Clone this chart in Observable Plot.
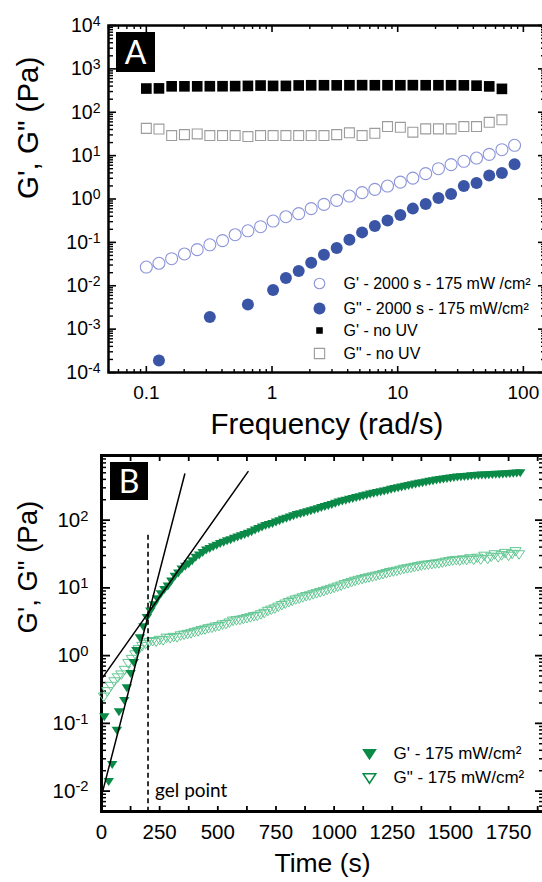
<!DOCTYPE html>
<html>
<head>
<meta charset="utf-8">
<script src="https://cdn.jsdelivr.net/npm/d3@7"></script>
<script src="https://cdn.jsdelivr.net/npm/@observablehq/plot@0.6"></script>
<style>
  html, body { margin: 0; padding: 0; background: #fff; overflow: hidden; }
  #wrap { position: relative; width: 542px; height: 882px; overflow: hidden; background: #fff; }
  #wrap svg { position: absolute; left: 0; }
  .tag { position: absolute; background: #000; color: #fff; font-family: Lato, "Open Sans", sans-serif;
         display: flex; align-items: center; justify-content: center; line-height: 1; }
</style>
</head>
<body>
<div id="wrap"></div>
<script>
const FONT = "'Liberation Sans', Arial, Helvetica, sans-serif";

// ---------------- Panel A : frequency sweep ----------------
const freqUV = [0.1, 0.126, 0.159, 0.201, 0.254, 0.32, 0.404, 0.509, 0.643, 0.811,
  1.02, 1.29, 1.63, 2.05, 2.59, 3.27, 4.13, 5.21, 6.58, 8.3,
  10.5, 13.2, 16.7, 21.1, 26.6, 33.6, 42.4, 53.5, 67.5, 85.1];
const gPrimeUV = [0.027, 0.033, 0.042, 0.054, 0.068, 0.088, 0.11, 0.15, 0.185, 0.23,
  0.31, 0.39, 0.46, 0.60, 0.75, 0.93, 1.17, 1.40, 1.67, 1.99,
  2.45, 3.03, 3.84, 5.0, 6.2, 7.4, 8.8, 10.7, 13.7, 17.3];
const freqLossUV = [0.126, 0.32, 0.643,
  1.02, 1.29, 1.63, 2.05, 2.59, 3.27, 4.13, 5.21, 6.58, 8.3,
  10.5, 13.2, 16.7, 21.1, 26.6, 33.6, 42.4, 53.5, 67.5, 85.1];
const gDoublePrimeUV = [1.9e-4, 1.9e-3, 3.7e-3,
  0.008, 0.015, 0.022, 0.034, 0.052, 0.074, 0.115, 0.17, 0.24, 0.32,
  0.43, 0.6, 0.77, 1.05, 1.3, 2.0, 2.33, 3.5, 4.0, 6.3];
const freqNoUV = [0.1, 0.126, 0.159, 0.201, 0.254, 0.32, 0.404, 0.509, 0.643, 0.811,
  1.02, 1.29, 1.63, 2.05, 2.59, 3.27, 4.13, 5.21, 6.58, 8.3,
  10.5, 13.2, 16.7, 21.1, 26.6, 33.6, 42.4, 53.5, 67.5];
const gPrimeNoUV = [352, 355, 396, 396, 396, 398, 398, 400, 405, 413,
  405, 405, 415, 419, 419, 417, 419, 421, 419, 419,
  419, 421, 419, 419, 419, 417, 410, 395, 346];
const gDoublePrimeNoUV = [42.5, 41, 29, 30.5, 31.6, 29, 29, 29, 27.5, 29,
  29, 29, 29, 29, 29, 30.5, 33.5, 29, 32.7, 46.7,
  45, 34.7, 41.4, 41.4, 41.4, 46.7, 46.7, 58.6, 66.8];
const xTicksA = [0.1, 1, 10, 100];
const xTickLabelsA = ["0.1", "1", "10", "100"];
const yTicksA = [1e-4, 1e-3, 1e-2, 1e-1, 1, 10, 100, 1e3, 1e4];
const yTickLabelsA = ["10^-4", "10^-3", "10^-2", "10^-1", "10^0", "10^1", "10^2", "10^3", "10^4"];
const legendA = ["G' - 2000 s - 175 mW /cm²", "G\" - 2000 s - 175 mW/cm²", "G' - no UV", "G\" - no UV"];
const xLabelA = "Frequency (rad/s)";
const yLabel = "G', G\" (Pa)";
const tagA = "A";

// ---------------- Panel B : time sweep ----------------
const timeStorage = [12, 31, 46, 66, 75, 98, 109, 125, 139,
  150, 165, 180, 195, 210, 225, 240, 255, 270, 285,
  300, 315, 330, 345, 360, 375, 390, 405, 420, 435,
  450, 465, 480, 495, 510, 525, 540, 555, 570, 585,
  600, 615, 630, 645, 660, 675, 690, 705, 720, 735,
  750, 765, 780, 795, 810, 825, 840, 855, 870, 885,
  900, 915, 930, 945, 960, 975, 990, 1005, 1020, 1035,
  1050, 1065, 1080, 1095, 1110, 1125, 1140, 1155, 1170, 1185,
  1200, 1215, 1230, 1245, 1260, 1275, 1290, 1305, 1320, 1335,
  1350, 1365, 1380, 1395, 1410, 1425, 1440, 1455, 1470, 1485,
  1500, 1515, 1530, 1545, 1560, 1575, 1590, 1605, 1620, 1635,
  1650, 1665, 1680, 1695, 1710, 1725, 1740, 1755, 1770, 1785,
  1800];
const gPrimeTime = [0.126, 0.014, 0.025, 0.08, 0.15, 0.22, 0.34, 0.55, 0.8,
  1.2, 1.85, 2.7, 3.7, 4.6, 5.7, 7.0, 8.3, 9.6, 10.8,
  12.8, 15.0, 16.8, 19.2, 21.0, 23.0, 25.5, 28.5, 31.0, 33.5,
  36.5, 38.5, 41.0, 43.0, 45.5, 47.5, 50.0, 52.0, 54.5, 57.0,
  59.5, 62.0, 64.5, 68.0, 72.0, 76.0, 80.0, 84.0, 87.0, 90.0,
  95, 99, 104, 108, 112, 117, 122, 126, 130, 134,
  139, 144, 149, 155, 160, 166, 172, 180, 187, 193,
  199, 205, 211, 218, 224, 231, 238, 245, 251, 258,
  265, 272, 280, 288, 295, 303, 311, 320, 329, 337,
  345, 353, 361, 369, 378, 386, 395, 402, 410, 417,
  424, 430, 436, 441, 446, 450, 455, 459, 463, 467,
  470, 473, 476, 479, 482, 485, 488, 492, 496, 500,
  505];
const timeLoss = [10, 25, 40, 55, 70, 85, 100, 115, 130, 145,
  160, 175, 190, 205, 220, 235, 250, 265, 280, 295,
  310, 325, 340, 355, 370, 385, 400, 415, 430, 445,
  460, 475, 490, 505, 520, 535, 550, 565, 580, 595,
  610, 625, 640, 655, 670, 685, 700, 715, 730, 745,
  760, 775, 790, 805, 820, 835, 850, 865, 880, 895,
  910, 925, 940, 955, 970, 985, 1000, 1015, 1030, 1045,
  1060, 1075, 1090, 1105, 1120, 1135, 1150, 1165, 1180, 1195,
  1210, 1225, 1240, 1255, 1270, 1285, 1300, 1315, 1330, 1345,
  1360, 1375, 1390, 1405, 1420, 1435, 1450, 1465, 1480, 1495,
  1510, 1525, 1540, 1555, 1570, 1585, 1600, 1615, 1630, 1645,
  1660, 1675, 1690, 1705, 1720, 1735, 1750, 1765, 1780, 1795];
const gDoublePrimeTime = [0.25, 0.30, 0.36, 0.42, 0.48, 0.53, 0.62, 0.78, 0.90, 1.05,
  1.25, 1.40, 1.50, 1.60, 1.65, 1.62, 1.72, 1.70, 1.85, 1.82,
  1.90, 1.88, 2.00, 2.05, 2.10, 2.15, 2.25, 2.30, 2.40, 2.45,
  2.55, 2.60, 2.70, 2.75, 2.90, 2.95, 3.10, 3.30, 3.35, 3.40,
  3.50, 3.60, 3.70, 3.85, 3.90, 4.10, 4.30, 4.60, 4.80, 5.00,
  5.30, 5.60, 5.90, 6.20, 6.50, 6.80, 7.00, 7.30, 7.60, 7.80,
  8.10, 8.40, 8.70, 9.00, 9.40, 9.70, 10.1, 10.5, 10.9, 11.4,
  11.8, 12.3, 12.8, 13.2, 13.6, 14.0, 14.4, 14.8, 15.2, 15.6,
  16.1, 16.6, 17.2, 17.6, 18.0, 18.6, 19.2, 19.6, 20.0, 20.5,
  21.0, 21.5, 22.0, 22.2, 22.6, 23.0, 23.2, 23.8, 24.5, 25.0,
  25.6, 26.0, 25.5, 26.5, 26.0, 27.5, 26.2, 28.0, 26.5, 30.0,
  27.0, 29.0, 31.5, 28.5, 30.5, 33.0, 30.0, 32.0, 35.0, 31.5];
const tangentSteepT = [0, 358];
const tangentSteepG = [0.0085, 480];
const tangentShallowT = [0, 630];
const tangentShallowG = [0.45, 520];
const gelPointTime = 200;
const gelLineTop = 60;
const gelLabel = "gel point";
const xTicksB = [0, 250, 500, 750, 1000, 1250, 1500, 1750];
const xTickLabelsB = ["0", "250", "500", "750", "1000", "1250", "1500", "1750"];
const xMinorB = [125, 375, 625, 875, 1125, 1375, 1625, 1875];
const yTicksB = [0.01, 0.1, 1, 10, 100];
const yTickLabelsB = ["10^-2", "10^-1", "10^0", "10^1", "10^2"];
const legendB = ["G' - 175 mW/cm²", "G\" - 175 mW/cm²"];
const xLabelB = "Time (s)";
const tagB = "B";

// ---------------- colours ----------------
const BLUE = "#3a55a6", BLUE_LIGHT = "#8c95d9", GRAY = "#9c9c9c";
const GREEN = "#0b8a47", GREEN_LIGHT = "#63c793";

// ---------------- helpers ----------------
function minorLog(majors, lo, hi) {
  const out = [];
  for (const m of [majors[0] / 10, ...majors])
    for (let k = 2; k <= 9; k++) { const v = m * k; if (v >= lo * 0.999 && v <= hi * 1.001) out.push(v); }
  return out;
}
function ticksIn(axis, values, edge, len, sw) {
  const opposite = {top: "bottom", bottom: "top", left: "right", right: "left"}[edge];
  const f = axis === "x" ? Plot.axisX : Plot.axisY;
  return f(values, {anchor: opposite, frameAnchor: edge, tickSize: len, strokeWidth: sw, fill: "none", label: null});
}
function tickLabels(axis, values, labels, pad, size) {
  const m = new Map(values.map((v, i) => [v, labels[i]]));
  const f = axis === "x" ? Plot.axisX : Plot.axisY;
  return f(values, {anchor: axis === "x" ? "bottom" : "left", tickSize: 0, tickPadding: pad,
    tickFormat: d => m.get(d), fontSize: size, label: null});
}
function superscripts(svg) {
  d3.select(svg).selectAll("text").each(function () {
    const s = this.textContent;
    const i = s.indexOf("^");
    if (i < 0) return;
    const el = d3.select(this);
    el.text(s.slice(0, i));
    el.append("tspan").attr("dy", "-0.42em").attr("font-size", "0.72em").text(s.slice(i + 1));
  });
}
const triDown = {
  draw(ctx, size) {
    const r = Math.sqrt(size / Math.PI), w = 1.05 * r, h = 1.6 * r;
    ctx.moveTo(-w, -0.4 * h); ctx.lineTo(w, -0.4 * h); ctx.lineTo(0, 0.6 * h); ctx.closePath();
  }
};
const zipXY = (xs, ys) => xs.map((x, i) => ({x, y: ys[i]}));
const label = (txt, o) => Plot.text([txt], {text: d => d, lineAnchor: "middle", ...o});
function addTag(txt, left, top, w, h, size) {
  const d = document.createElement("div");
  d.className = "tag"; d.textContent = txt;
  Object.assign(d.style, {left: left + "px", top: top + "px", width: w + "px", height: h + "px", fontSize: size + "px"});
  wrap.appendChild(d);
}

const wrap = document.getElementById("wrap");

// ---------------- Panel A ----------------
const loA = 0.05, hiA = 150, yLoA = 1e-4, yHiA = 1e4;
const chartA = Plot.plot({
  width: 546, height: 450,
  marginLeft: 108, marginRight: 1, marginTop: 25, marginBottom: 78,
  style: {fontFamily: FONT, fontSize: "19px", overflow: "visible", maxWidth: "none", background: "transparent"},
  x: {type: "log", domain: [loA, hiA], axis: null},
  y: {type: "log", domain: [yLoA, yHiA], axis: null},
  marks: [
    ticksIn("x", xTicksA, "bottom", 7, 1.6), ticksIn("x", minorLog(xTicksA, loA, hiA), "bottom", 4, 1.4),
    ticksIn("x", xTicksA, "top", 7, 1.6), ticksIn("x", minorLog(xTicksA, loA, hiA), "top", 4, 1.4),
    ticksIn("y", yTicksA, "left", 7, 1.6), ticksIn("y", minorLog(yTicksA, yLoA, yHiA), "left", 4, 1.4),
    ticksIn("y", yTicksA, "right", 7, 1.6), ticksIn("y", minorLog(yTicksA, yLoA, yHiA), "right", 4, 1.4),
    Plot.frame({strokeWidth: 2.5}),
    tickLabels("x", xTicksA, xTickLabelsA, 13, 19),
    tickLabels("y", yTicksA, yTickLabelsA, 8, 19.5),
    label(xLabelA, {frameAnchor: "bottom", dy: 52, fontSize: 29.5}),
    label(yLabel, {frameAnchor: "left", dx: -80, rotate: -90, fontSize: 29.5}),
    // data
    Plot.dot(zipXY(freqNoUV, gDoublePrimeNoUV), {x: "x", y: "y", symbol: "square", r: 5.6, stroke: GRAY, strokeWidth: 1.1, fill: "none"}),
    Plot.dot(zipXY(freqNoUV, gPrimeNoUV), {x: "x", y: "y", symbol: "square", r: 6, fill: "#000"}),
    Plot.dot(zipXY(freqUV, gPrimeUV), {x: "x", y: "y", symbol: "circle", r: 6, stroke: BLUE_LIGHT, strokeWidth: 1.1, fill: "none"}),
    Plot.dot(zipXY(freqLossUV, gDoublePrimeUV), {x: "x", y: "y", symbol: "circle", r: 6, fill: BLUE}),
    // legend
    Plot.dot([0], {frameAnchor: "top-left", dx: 211, dy: 258, symbol: "circle", r: 5.3, stroke: BLUE_LIGHT, strokeWidth: 1.1, fill: "none"}),
    Plot.dot([0], {frameAnchor: "top-left", dx: 211, dy: 283, symbol: "circle", r: 6, fill: BLUE}),
    Plot.dot([0], {frameAnchor: "top-left", dx: 211, dy: 305, symbol: "square", r: 3.7, fill: "#000"}),
    Plot.dot([0], {frameAnchor: "top-left", dx: 211, dy: 328, symbol: "square", r: 5.8, stroke: GRAY, strokeWidth: 1.1, fill: "none"}),
    label(legendA[0], {frameAnchor: "top-left", dx: 235, dy: 258, fontSize: 16, textAnchor: "start"}),
    label(legendA[1], {frameAnchor: "top-left", dx: 235, dy: 283, fontSize: 16, textAnchor: "start"}),
    label(legendA[2], {frameAnchor: "top-left", dx: 235, dy: 305, fontSize: 16, textAnchor: "start"}),
    label(legendA[3], {frameAnchor: "top-left", dx: 235, dy: 328, fontSize: 16, textAnchor: "start"})
  ]
});
chartA.style.top = "0px";
superscripts(chartA);
wrap.appendChild(chartA);
addTag(tagA, 116, 32, 39, 40, 32);

// ---------------- Panel B ----------------
const loB = 0, hiB = 1900, yLoB = 0.005, yHiB = 900;
const chartB = Plot.plot({
  width: 544, height: 432,
  marginLeft: 101, marginRight: 1, marginTop: 5, marginBottom: 71,
  style: {fontFamily: FONT, fontSize: "20px", overflow: "visible", maxWidth: "none", background: "transparent"},
  x: {domain: [loB, hiB], axis: null},
  y: {type: "log", domain: [yLoB, yHiB], axis: null},
  marks: [
    ticksIn("x", xTicksB, "bottom", 6, 1.8), ticksIn("x", xMinorB, "bottom", 6, 1.8),
    ticksIn("x", xTicksB, "top", 6, 1.8), ticksIn("x", xMinorB, "top", 6, 1.8),
    ticksIn("y", yTicksB, "left", 8, 1.8), ticksIn("y", minorLog(yTicksB, yLoB, yHiB), "left", 4, 1.5),
    ticksIn("y", yTicksB, "right", 8, 1.8), ticksIn("y", minorLog(yTicksB, yLoB, yHiB), "right", 4, 1.5),
    Plot.frame({strokeWidth: 3}),
    tickLabels("x", xTicksB, xTickLabelsB, 13, 20.5),
    tickLabels("y", yTicksB, yTickLabelsB, 13, 20.5),
    label(xLabelB, {frameAnchor: "bottom", dy: 52, fontSize: 26.5}),
    label(yLabel, {frameAnchor: "left", dx: -73, rotate: -90, fontSize: 27.5}),
    // data
    Plot.dot(zipXY(timeLoss, gDoublePrimeTime), {x: "x", y: "y", symbol: triDown, r: 5.3, stroke: GREEN_LIGHT, strokeWidth: 1, fill: "none"}),
    Plot.dot(zipXY(timeStorage, gPrimeTime), {x: "x", y: "y", symbol: triDown, r: 5, fill: GREEN}),
    Plot.line(zipXY(tangentSteepT, tangentSteepG), {x: "x", y: "y", stroke: "#000", strokeWidth: 1.5}),
    Plot.line(zipXY(tangentShallowT, tangentShallowG), {x: "x", y: "y", stroke: "#000", strokeWidth: 1.5}),
    Plot.ruleX([gelPointTime], {y1: gelLineTop, y2: yLoB, stroke: "#000", strokeWidth: 1.6, strokeDasharray: "5,3.5"}),
    Plot.text([gelLabel], {x: () => gelPointTime, frameAnchor: "bottom", dx: 7, dy: -21, lineAnchor: "middle",
      textAnchor: "start", text: d => d, fontSize: 19, fontFamily: "Lato, 'Open Sans', sans-serif"}),
    // legend
    Plot.dot([0], {frameAnchor: "top-left", dx: 268, dy: 298, symbol: triDown, r: 7, fill: GREEN}),
    Plot.dot([0], {frameAnchor: "top-left", dx: 268, dy: 322, symbol: triDown, r: 6, stroke: GREEN, strokeWidth: 1.5, fill: "none"}),
    label(legendB[0], {frameAnchor: "top-left", dx: 292, dy: 298, fontSize: 17, textAnchor: "start"}),
    label(legendB[1], {frameAnchor: "top-left", dx: 292, dy: 322, fontSize: 17, textAnchor: "start"})
  ]
});
chartB.style.top = "450px";
superscripts(chartB);
wrap.appendChild(chartB);
addTag(tagB, 110, 462, 38, 38, 32);
</script>
</body></html>
